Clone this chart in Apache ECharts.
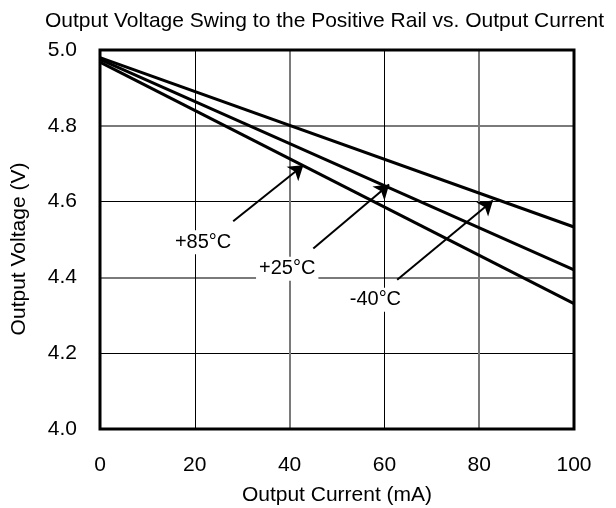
<!DOCTYPE html>
<html>
<head>
<meta charset="utf-8">
<script src="https://cdn.jsdelivr.net/npm/echarts@6/dist/echarts.min.js"></script>
<style>
  html, body { margin: 0; padding: 0; background: #fff; }
  #chart { width: 616px; height: 508px; }
</style>
</head>
<body>
<div id="chart"></div>
<script>
// Output current (mA) at the two ends of each straight trace
const currents = [0, 100];
// Output voltage (V) for each temperature
const voltsMinus40 = [4.98, 4.533];
const volts25 = [4.975, 4.42];
const volts85 = [4.968, 4.331];

// Temperature labels: [current, voltage, text]
const tempLabels = [
  [21.75, 4.493, '+85°C'],
  [39.5, 4.423, '+25°C'],
  [58.1, 4.341, '-40°C']
];
// Pointer arrows: start -> tip, in data units
const pointerArrows = [
  [[28.1, 4.548], [42.9, 4.696]],
  [[45.0, 4.476], [61.0, 4.645]],
  [[62.7, 4.394], [82.9, 4.603]]
];

const xTicks = { min: 0, max: 100, interval: 20 };
const yTicks = { min: 4.0, max: 5.0, interval: 0.2 };

const FONT = 'Liberation Sans, Arial, sans-serif';
const FS = 21;

function pairs(xs, ys) { return xs.map((x, i) => [x, ys[i]]); }

const chart = echarts.init(document.getElementById('chart'));
chart.setOption({
  animation: false,
  backgroundColor: '#fff',
  title: {
    text: 'Output Voltage Swing to the Positive Rail vs. Output Current',
    left: 40, top: 6,
    textStyle: { fontFamily: FONT, fontSize: FS, fontWeight: 'normal', color: '#000' }
  },
  grid: {
    left: 100, right: 42, top: 50, bottom: 79,
    outerBoundsMode: 'none', containLabel: false,
    show: true, borderColor: '#000', borderWidth: 3, backgroundColor: 'transparent', z: 5
  },
  xAxis: [{
    type: 'value', min: xTicks.min, max: xTicks.max, interval: xTicks.interval,
    name: 'Output Current (mA)', nameLocation: 'middle', nameGap: 56,
    nameTextStyle: { fontFamily: FONT, fontSize: FS, color: '#000' },
    axisLine: { show: false }, axisTick: { show: false },
    axisLabel: { margin: 26, fontFamily: FONT, fontSize: FS, color: '#000' },
    splitLine: { show: true, lineStyle: { color: ['transparent', '#000'], width: 1 } }
  }, {
    type: 'value', min: xTicks.min, max: xTicks.max, interval: xTicks.interval,
    axisLine: { show: false }, axisTick: { show: false }, axisLabel: { show: false },
    splitLine: { show: true, lineStyle: { color: ['#7a7a7a', 'transparent'], width: 2 } }
  }],
  yAxis: [{
    type: 'value', min: yTicks.min, max: yTicks.max, interval: yTicks.interval,
    axisLine: { show: false }, axisTick: { show: false },
    axisLabel: { margin: 23, fontFamily: FONT, fontSize: FS, color: '#000',
      formatter: v => v.toFixed(1) },
    splitLine: { show: true, lineStyle: { color: ['transparent', '#000'], width: 1 } }
  }, {
    type: 'value', min: yTicks.min, max: yTicks.max, interval: yTicks.interval,
    axisLine: { show: false }, axisTick: { show: false }, axisLabel: { show: false },
    splitLine: { show: true, lineStyle: { color: ['#7a7a7a', 'transparent'], width: 2 } }
  }],
  graphic: [{
    type: 'text',
    rotation: Math.PI / 2,
    x: 19, y: 249,
    style: { text: 'Output Voltage (V)', font: FS + 'px ' + FONT, fill: '#000',
      textAlign: 'center', textVerticalAlign: 'middle' }
  }],
  series: [
    { type: 'line', data: pairs(currents, voltsMinus40), symbol: 'none',
      lineStyle: { color: '#000', width: 3 }, z: 3 },
    { type: 'line', data: pairs(currents, volts25), symbol: 'none',
      lineStyle: { color: '#000', width: 3 }, z: 3 },
    { type: 'line', data: pairs(currents, volts85), symbol: 'none',
      lineStyle: { color: '#000', width: 3 }, z: 3 },
    { type: 'lines', coordinateSystem: 'cartesian2d', z: 4,
      symbol: ['none', 'arrow'], symbolSize: 14,
      lineStyle: { color: '#000', width: 2, opacity: 1 },
      data: pointerArrows.map(a => ({ coords: a })) },
    { type: 'scatter', symbolSize: 0, z: 6,
      itemStyle: { opacity: 1 },
      data: tempLabels.map(t => ({ value: [t[0], t[1]], name: t[2] })),
      label: { show: true, position: 'inside', formatter: p => p.name, opacity: 1,
        fontFamily: FONT, fontSize: 20, color: '#000', textBorderWidth: 0,
        backgroundColor: '#fff', padding: [2, 3] } }
  ]
});
</script>
</body>
</html>
